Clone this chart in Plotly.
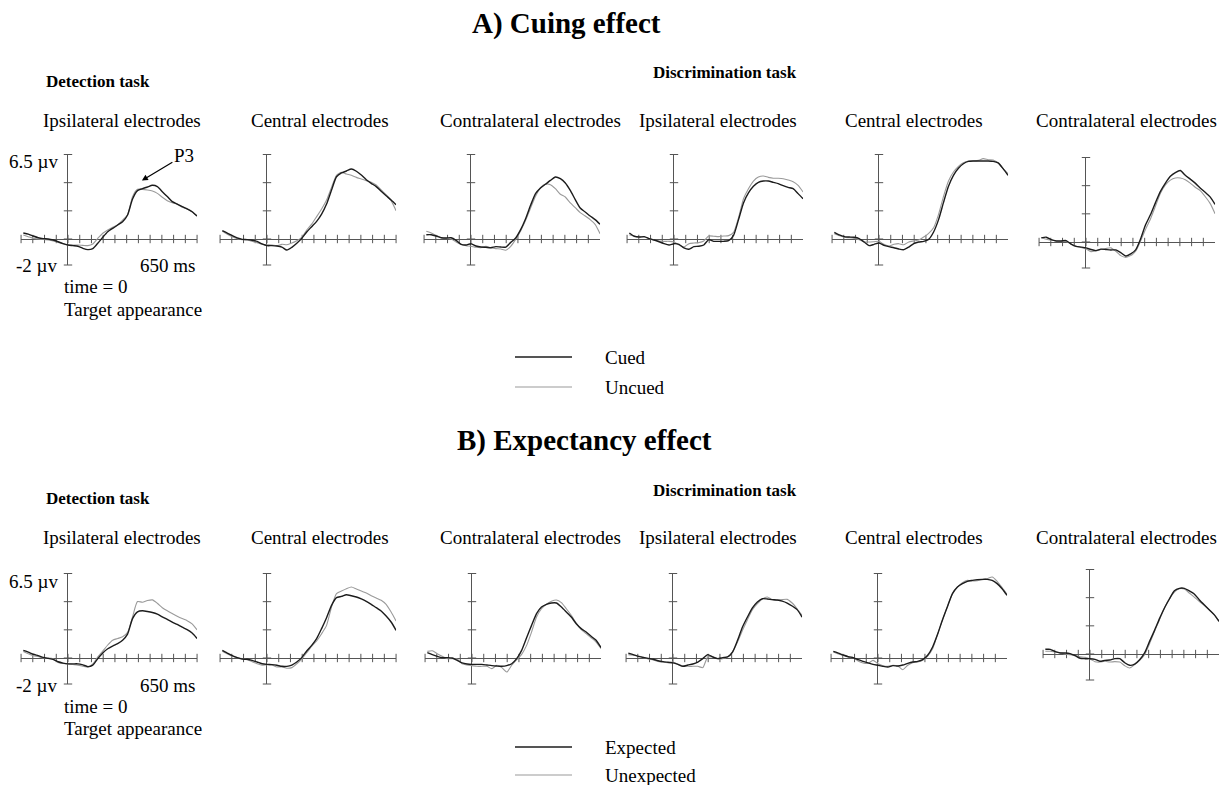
import plotly.graph_objects as go

W, H = 1219, 785
FONT = "Liberation Serif"

# time base (ms relative to target onset) shared by all waveforms
t_ms = list(range(-225, 651, 25))

# ---- A) Cuing effect: cued vs uncued (µV) ----
a_det_ipsi_cued = [0.46, 0.38, 0.23, 0.10, 0.03, 0.00, -0.08, -0.21, -0.36, -0.46, -0.51, -0.56, -0.72, -0.82, -0.74, -0.33, 0.13, 0.56, 0.82, 1.08, 1.33, 1.85, 3.08, 3.72, 3.87, 4.00, 4.13, 4.03, 3.64, 3.26, 2.87, 2.69, 2.49, 2.31, 2.10, 1.77]
a_det_ipsi_uncued = [0.31, 0.18, 0.05, 0.00, -0.03, -0.08, -0.15, -0.26, -0.36, -0.46, -0.46, -0.46, -0.49, -0.51, -0.38, 0.05, 0.44, 0.69, 0.90, 1.08, 1.46, 1.85, 3.26, 3.82, 3.82, 3.77, 3.69, 3.51, 3.21, 2.95, 2.79, 2.69, 2.44, 2.31, 2.10, 1.77]
a_det_cent_cued = [0.64, 0.46, 0.26, 0.08, -0.03, -0.05, -0.10, -0.18, -0.38, -0.51, -0.51, -0.54, -0.62, -0.85, -0.64, -0.33, 0.05, 0.54, 0.95, 1.36, 1.92, 2.69, 3.77, 4.79, 5.08, 5.23, 5.38, 5.21, 4.92, 4.56, 4.28, 4.03, 3.67, 3.33, 3.00, 2.64]
a_det_cent_uncued = [0.59, 0.36, 0.18, 0.03, -0.05, -0.08, -0.18, -0.28, -0.41, -0.44, -0.46, -0.51, -0.41, -0.44, -0.31, -0.13, 0.13, 0.69, 1.15, 1.72, 2.31, 3.00, 3.97, 4.90, 5.13, 5.00, 4.90, 4.74, 4.62, 4.49, 4.36, 4.15, 3.77, 3.41, 2.95, 2.18]
a_det_contra_cued = [0.33, 0.33, 0.23, 0.10, 0.08, 0.10, -0.10, -0.41, -0.46, -0.36, -0.54, -0.62, -0.64, -0.67, -0.59, -0.62, -0.62, -0.26, 0.08, 0.72, 1.56, 2.59, 3.49, 3.92, 4.21, 4.51, 4.77, 4.64, 4.31, 3.74, 3.03, 2.38, 2.08, 1.77, 1.49, 1.13]
a_det_contra_uncued = [0.59, 0.46, 0.26, 0.10, 0.05, 0.00, -0.23, -0.41, -0.51, -0.56, -0.64, -0.67, -0.56, -0.67, -0.74, -0.77, -0.87, -0.56, -0.03, 0.62, 1.44, 2.38, 3.28, 3.95, 4.23, 4.18, 3.87, 3.44, 3.23, 2.77, 2.41, 2.03, 1.77, 1.49, 1.13, 0.41]
a_dis_ipsi_cued = [0.46, 0.21, 0.15, 0.18, 0.03, -0.08, -0.21, -0.36, -0.46, -0.36, -0.41, -0.69, -0.79, -0.59, -0.56, -0.46, -0.05, -0.18, -0.18, -0.18, -0.13, 0.28, 1.49, 2.77, 3.54, 4.05, 4.36, 4.46, 4.46, 4.36, 4.26, 4.10, 3.97, 3.87, 3.49, 3.10]
a_dis_ipsi_uncued = [0.33, 0.21, 0.15, 0.15, 0.03, -0.10, -0.15, -0.18, -0.18, -0.23, -0.46, -0.62, -0.36, -0.31, -0.28, -0.15, 0.23, 0.21, 0.18, 0.23, 0.26, 0.51, 1.64, 3.10, 3.87, 4.46, 4.77, 4.85, 4.74, 4.67, 4.67, 4.64, 4.54, 4.41, 4.13, 3.62]
a_dis_cent_cued = [0.51, 0.31, 0.18, 0.15, 0.13, 0.03, -0.23, -0.51, -0.41, -0.31, -0.49, -0.59, -0.67, -0.77, -0.82, -0.62, -0.36, -0.23, -0.18, -0.03, 0.54, 1.49, 2.82, 4.05, 4.90, 5.44, 5.79, 5.97, 6.00, 6.00, 6.00, 6.00, 5.97, 5.85, 5.41, 4.90]
a_dis_cent_uncued = [0.41, 0.26, 0.13, 0.10, 0.05, -0.05, -0.21, -0.23, -0.21, -0.18, -0.41, -0.54, -0.41, -0.36, -0.44, -0.23, -0.15, -0.08, 0.15, 0.44, 0.87, 1.90, 3.28, 4.46, 5.15, 5.59, 5.87, 6.00, 6.00, 6.05, 6.18, 6.10, 6.08, 5.85, 5.41, 5.03]
a_dis_contra_cued = [0.32, 0.37, 0.18, 0.08, 0.08, 0.11, -0.16, -0.34, -0.39, -0.45, -0.58, -0.66, -0.55, -0.58, -0.61, -0.61, -0.82, -1.08, -0.92, -0.61, 0.24, 1.32, 2.11, 3.03, 3.89, 4.53, 5.05, 5.34, 5.50, 5.13, 4.84, 4.53, 4.16, 3.82, 3.47, 2.89]
a_dis_contra_uncued = [0.34, 0.21, 0.13, 0.08, 0.05, 0.05, -0.16, -0.32, -0.42, -0.53, -0.74, -0.68, -0.58, -0.50, -0.45, -0.71, -1.05, -1.18, -1.05, -0.71, 0.08, 0.97, 1.79, 2.76, 3.74, 4.39, 4.76, 4.92, 4.92, 4.79, 4.53, 4.21, 3.95, 3.50, 2.97, 2.18]

# ---- B) Expectancy effect: expected vs unexpected (µV) ----
b_det_ipsi_exp = [0.58, 0.45, 0.29, 0.18, 0.05, -0.03, -0.11, -0.29, -0.39, -0.45, -0.45, -0.45, -0.53, -0.66, -0.55, -0.05, 0.39, 0.71, 0.92, 1.11, 1.37, 1.84, 3.03, 3.55, 3.63, 3.58, 3.50, 3.37, 3.16, 2.97, 2.76, 2.58, 2.37, 2.18, 1.92, 1.50]
b_det_ipsi_unexp = [0.50, 0.32, 0.18, 0.11, 0.00, 0.00, -0.05, -0.34, -0.42, -0.45, -0.50, -0.55, -0.63, -0.71, -0.45, 0.08, 0.53, 1.00, 1.37, 1.50, 1.63, 1.97, 3.16, 4.34, 4.29, 4.42, 4.47, 4.21, 3.87, 3.63, 3.42, 3.21, 3.03, 2.87, 2.63, 2.16]
b_det_cent_exp = [0.59, 0.38, 0.18, 0.03, -0.08, -0.10, -0.18, -0.31, -0.44, -0.49, -0.51, -0.56, -0.64, -0.64, -0.54, -0.31, 0.03, 0.54, 0.97, 1.49, 2.26, 3.10, 4.05, 4.64, 4.74, 4.87, 4.79, 4.69, 4.54, 4.36, 4.13, 3.87, 3.62, 3.23, 2.77, 2.13]
b_det_cent_unexp = [0.51, 0.31, 0.13, 0.03, -0.05, -0.13, -0.28, -0.44, -0.56, -0.51, -0.54, -0.69, -0.69, -0.79, -0.74, -0.44, -0.08, 0.41, 0.90, 1.31, 1.87, 2.51, 3.92, 4.95, 5.15, 5.33, 5.46, 5.31, 5.15, 5.00, 4.79, 4.62, 4.44, 4.13, 3.54, 2.85]
b_det_contra_exp = [0.41, 0.26, 0.13, 0.03, 0.03, 0.00, -0.18, -0.38, -0.46, -0.49, -0.49, -0.49, -0.54, -0.59, -0.62, -0.64, -0.59, -0.44, -0.05, 0.59, 1.56, 2.51, 3.41, 3.92, 4.13, 4.23, 4.23, 3.92, 3.54, 3.15, 2.64, 2.26, 2.00, 1.67, 1.36, 0.79]
b_det_contra_unexp = [0.51, 0.56, 0.33, 0.13, -0.05, -0.05, -0.08, -0.44, -0.54, -0.59, -0.64, -0.64, -0.64, -0.82, -0.56, -0.74, -1.08, -0.56, -0.13, 0.28, 0.97, 2.00, 3.15, 3.79, 4.13, 4.36, 4.46, 4.26, 3.79, 3.28, 2.69, 2.18, 1.87, 1.56, 1.23, 0.72]
b_dis_ipsi_exp = [0.38, 0.26, 0.13, 0.05, -0.03, -0.10, -0.21, -0.28, -0.33, -0.38, -0.49, -0.64, -0.54, -0.46, -0.31, -0.05, 0.26, 0.08, -0.05, 0.03, 0.08, 0.46, 1.36, 2.38, 3.15, 3.85, 4.31, 4.56, 4.54, 4.49, 4.46, 4.38, 4.23, 4.00, 3.72, 3.15]
b_dis_ipsi_unexp = [0.26, 0.21, 0.15, 0.05, -0.08, -0.15, -0.26, -0.33, -0.36, -0.31, -0.49, -0.62, -0.64, -0.64, -0.64, -0.74, 0.08, 0.08, -0.05, -0.05, 0.10, 0.49, 1.23, 2.13, 2.95, 3.72, 4.18, 4.54, 4.69, 4.49, 4.44, 4.49, 4.51, 4.23, 3.79, 3.28]
b_dis_cent_exp = [0.51, 0.38, 0.23, 0.10, 0.03, -0.13, -0.26, -0.38, -0.49, -0.56, -0.64, -0.69, -0.59, -0.62, -0.54, -0.41, -0.31, -0.26, -0.13, 0.21, 0.85, 1.82, 2.95, 3.97, 4.95, 5.46, 5.72, 5.90, 5.97, 6.03, 6.05, 6.05, 5.97, 5.72, 5.33, 4.82]
b_dis_cent_unexp = [0.46, 0.31, 0.21, 0.10, 0.03, -0.23, -0.38, -0.41, -0.18, -0.44, -0.59, -0.64, -0.56, -0.62, -0.90, -0.56, -0.36, -0.31, -0.18, 0.15, 0.72, 1.82, 2.95, 3.97, 4.95, 5.46, 5.79, 5.97, 5.92, 5.95, 6.03, 6.10, 6.23, 5.90, 5.41, 4.90]
b_dis_contra_exp = [0.36, 0.36, 0.18, 0.08, 0.08, 0.03, -0.13, -0.33, -0.36, -0.36, -0.41, -0.56, -0.49, -0.46, -0.36, -0.36, -0.67, -0.87, -0.77, -0.44, 0.08, 0.97, 1.82, 2.72, 3.54, 4.23, 4.87, 5.05, 5.05, 4.85, 4.62, 4.18, 3.79, 3.41, 3.03, 2.51]
b_dis_contra_unexp = [0.21, 0.21, 0.15, 0.10, 0.00, -0.05, -0.13, -0.21, -0.26, -0.38, -0.59, -0.62, -0.56, -0.62, -0.59, -0.62, -0.90, -1.08, -0.82, -0.49, -0.05, 0.79, 1.74, 2.64, 3.54, 4.26, 4.77, 5.03, 5.00, 4.69, 4.38, 4.05, 3.74, 3.41, 3.03, 2.51]

panel_titles = ["Ipsilateral electrodes", "Central electrodes", "Contralateral electrodes",
                "Ipsilateral electrodes", "Central electrodes", "Contralateral electrodes"]
legend_a = ["Cued", "Uncued"]
legend_b = ["Expected", "Unexpected"]

# axis scales
T_STEP = 650 / 11                      # time tick spacing (ms)
X_RANGE = [-4 * T_STEP, 650]
Y_RANGE = [-2, 6.5]
Y_TICKS = [-2, 0, 6.5 / 3, 13 / 3, 6.5]
X_TICKS = [k * T_STEP for k in range(-4, 12)]

# series pairs, in panel order (row A then row B)
series = [
    (a_det_ipsi_cued, a_det_ipsi_uncued), (a_det_cent_cued, a_det_cent_uncued),
    (a_det_contra_cued, a_det_contra_uncued), (a_dis_ipsi_cued, a_dis_ipsi_uncued),
    (a_dis_cent_cued, a_dis_cent_uncued), (a_dis_contra_cued, a_dis_contra_uncued),
    (b_det_ipsi_exp, b_det_ipsi_unexp), (b_det_cent_exp, b_det_cent_unexp),
    (b_det_contra_exp, b_det_contra_unexp), (b_dis_ipsi_exp, b_dis_ipsi_unexp),
    (b_dis_cent_exp, b_dis_cent_unexp), (b_dis_contra_exp, b_dis_contra_unexp),
]

# panel placement in page pixels: (x of the time-zero axis, y of the 0 µV axis)
origins = [(68, 239), (267, 239), (471, 239), (674, 239), (879, 239), (1086, 242),
           (68, 658), (267, 658), (472, 658), (673, 658), (878, 658), (1090, 654)]
PX_PER_MS = 176 / (X_RANGE[1] - X_RANGE[0])
PX_PER_UV = 13.0

BLACK = "#1c1c1c"
GREY = "#9a9a9a"
AXIS = "#555555"


def fx(px):
    return min(max(px / W, 0.0), 1.0)


def fy(py):
    return min(max(1 - py / H, 0.0), 1.0)


fig = go.Figure()
layout = {}
for i, ((dark, light), (ox, oy)) in enumerate(zip(series, origins)):
    n = "" if i == 0 else str(i + 1)
    xa, ya = "x" + n, "y" + n
    x0 = ox + X_RANGE[0] * PX_PER_MS
    x1 = min(ox + X_RANGE[1] * PX_PER_MS, W)
    xr = [X_RANGE[0], (x1 - ox) / PX_PER_MS]
    y_top = oy - Y_RANGE[1] * PX_PER_UV
    y_bot = oy - Y_RANGE[0] * PX_PER_UV
    layout["xaxis" + n] = dict(domain=[fx(x0), fx(x1)], range=xr, anchor=ya,
                               showgrid=False, showticklabels=False, ticks="",
                               showline=False, zeroline=True, zerolinecolor=AXIS,
                               zerolinewidth=1, fixedrange=True)
    layout["yaxis" + n] = dict(domain=[fy(y_bot), fy(y_top)], range=Y_RANGE, anchor=xa,
                               showgrid=False, showticklabels=False, ticks="",
                               showline=False, zeroline=True, zerolinecolor=AXIS,
                               zerolinewidth=1, fixedrange=True)
    # tick marks crossing each axis
    fig.add_trace(go.Scatter(x=X_TICKS, y=[0] * len(X_TICKS), mode="markers",
                             marker=dict(symbol="line-ns", size=6,
                                         line=dict(color=AXIS, width=1)),
                             xaxis=xa, yaxis=ya, showlegend=False, hoverinfo="skip",
                             cliponaxis=False))
    fig.add_trace(go.Scatter(x=[0] * len(Y_TICKS), y=Y_TICKS, mode="markers",
                             marker=dict(symbol="line-ew", size=6,
                                         line=dict(color=AXIS, width=1)),
                             xaxis=xa, yaxis=ya, showlegend=False, hoverinfo="skip",
                             cliponaxis=False))
    fig.add_trace(go.Scatter(x=t_ms, y=light, mode="lines",
                             line=dict(color=GREY, width=1.1, shape="spline", smoothing=0.6),
                             xaxis=xa, yaxis=ya, showlegend=False, cliponaxis=False))
    fig.add_trace(go.Scatter(x=t_ms, y=dark, mode="lines",
                             line=dict(color=BLACK, width=1.4, shape="spline", smoothing=0.6),
                             xaxis=xa, yaxis=ya, showlegend=False, cliponaxis=False))

annotations = []
shapes = []


def text(s, x, y, size=19, bold=False, xanchor="center"):
    annotations.append(dict(
        text=f"<b>{s}</b>" if bold else s, x=fx(x), y=fy(y), xref="paper", yref="paper",
        xanchor=xanchor, yanchor="middle", showarrow=False,
        font=dict(family=FONT, size=size, color="black")))


# section headings
text("A) Cuing effect", 566, 24, size=29, bold=True)
text("B) Expectancy effect", 584, 440, size=29, bold=True)

title_x = [122, 320, 530, 718, 914, 1126]
rows = [
    dict(det_y=82, dis_y=73, title_y=121, legend=legend_a, legend_y=(357, 387)),
    dict(det_y=498, dis_y=490, title_y=537, legend=legend_b, legend_y=(747, 775)),
]
for r in rows:
    text("Detection task", 44, r["det_y"], size=17, bold=True, xanchor="left")
    text("Discrimination task", 725, r["dis_y"], size=17, bold=True)
    for cx, ttl in zip(title_x, panel_titles):
        text(ttl, cx, r["title_y"], size=19)
    for lab, ly, col, wdt in zip(r["legend"], r["legend_y"], [BLACK, GREY], [1.4, 1.1]):
        shapes.append(dict(type="line", xref="paper", yref="paper",
                           x0=fx(515), x1=fx(572), y0=fy(ly), y1=fy(ly),
                           line=dict(color=col, width=wdt)))
        text(lab, 603, ly, size=19, xanchor="left")

# scale annotations on the detection-task ipsilateral panels
for oy in (239, 658):
    text("6.5 µv", 60, oy - 77, xanchor="right")
    text("-2 µv", 60, oy + 27, xanchor="right")
    text("650 ms", 197, oy + 27, xanchor="right")
    text("time = 0", 62, oy + 48, xanchor="left")
    text("Target appearance", 62, oy + 70, xanchor="left")

# P3 marker
annotations.append(dict(text="P3", x=372, y=4.5, xref="x", yref="y", showarrow=True,
                        arrowhead=2, arrowsize=1, arrowwidth=1.2, arrowcolor="black",
                        ax=42, ay=-25, font=dict(family=FONT, size=19, color="black")))

fig.update_layout(width=W, height=H, margin=dict(l=0, r=0, t=0, b=0),
                  paper_bgcolor="white", plot_bgcolor="white",
                  annotations=annotations, shapes=shapes, showlegend=False, **layout)
fig.write_html("out.html")
